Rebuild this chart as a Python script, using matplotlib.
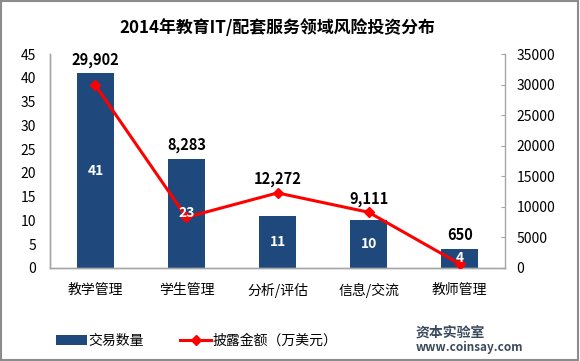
import numpy as np
import matplotlib.pyplot as plt
from matplotlib.patches import Rectangle

plt.rcParams['font.family'] = ['Noto Sans CJK SC', 'DejaVu Sans']

# data
categories = ['教学管理', '学生管理', '分析/评估', '信息/交流', '教师管理']
deal_counts = [41, 23, 11, 10, 4]
amounts = [29902, 8283, 12272, 9111, 650]

title = '2014年教育IT/配套服务领域风险投资分布'
bar_label = '交易数量'
line_label = '披露金额（万美元）'

bar_color = '#1F497D'
line_color = '#FF0000'
axis_gray = '#A6A6A6'

fig = plt.figure(figsize=(5.8, 3.61), dpi=100)
ax = fig.add_axes([0.086, 0.258, 0.785, 0.592])
ax2 = ax.twinx()

x = np.arange(len(categories))
bars = ax.bar(x, deal_counts, width=0.4, color=bar_color, label=bar_label, zorder=2)
line, = ax2.plot(x, amounts, color=line_color, lw=2.2, marker='D', ms=5.5,
                 label=line_label, zorder=3)

ax.set_xlim(-0.5, len(categories) - 0.5)
ax.set_ylim(0, 45)
ax.set_yticks(range(0, 46, 5))
ax2.set_ylim(0, 35000)
ax2.set_yticks(range(0, 35001, 5000))

ax.set_xticks(x)
ax.set_xticklabels(categories, fontsize=10)
ax.tick_params(axis='x', length=0, pad=11)
ax.tick_params(axis='y', length=0, labelsize=10, pad=10)
ax2.tick_params(axis='y', length=3, direction='in', color=axis_gray, labelsize=10, pad=8)

# put line on top of bars
ax.set_zorder(1)
ax.patch.set_visible(False)
ax2.set_zorder(2)

for a in (ax, ax2):
    a.spines['top'].set_visible(False)
    for s in ('left', 'right', 'bottom'):
        a.spines[s].set_color(axis_gray)
        a.spines[s].set_linewidth(1)
ax.spines['right'].set_visible(False)

scale = 45 / 35000

# white count labels inside the bars (drawn on the line axes so they sit above the line)
for xi, v in zip(x, deal_counts):
    ax2.text(xi, v / 2 / scale, str(v), color='white', ha='center', va='center',
             fontsize=10, fontweight='bold', zorder=5)

# amount labels above bar top or line point, whichever is higher
for xi, v, amt in zip(x, deal_counts, amounts):
    top = max(v, amt * scale)
    ax2.annotate(f'{amt:,}', (xi, top / scale), xytext=(0, 4), textcoords='offset points',
                 ha='center', va='bottom', fontsize=10.5, fontweight='bold', zorder=5)

fig.text(0.478, 0.922, title, ha='center', va='center', fontsize=12.2, fontweight='bold')

fig.legend(handles=[bars, line], labels=[bar_label, line_label], loc='center left',
           bbox_to_anchor=(0.075, 0.055), ncol=2, frameon=False, fontsize=10,
           handlelength=2.2, columnspacing=2.6, handletextpad=0.15)

# watermark text
fig.text(0.716, 0.08, '资本实验室', fontsize=10, fontweight='bold', color='#3A4A5C',
         ha='left', va='center')
fig.text(0.716, 0.038, 'www.coinsay.com', fontsize=8.5, fontweight='bold', color='#3A4A5C',
         ha='left', va='center')

fig.patches.append(Rectangle((0.002, 0.003), 0.995, 0.993, transform=fig.transFigure,
                             fill=False, edgecolor='#8C8C8C', lw=1.5))

fig.savefig('out.png', dpi=100)
